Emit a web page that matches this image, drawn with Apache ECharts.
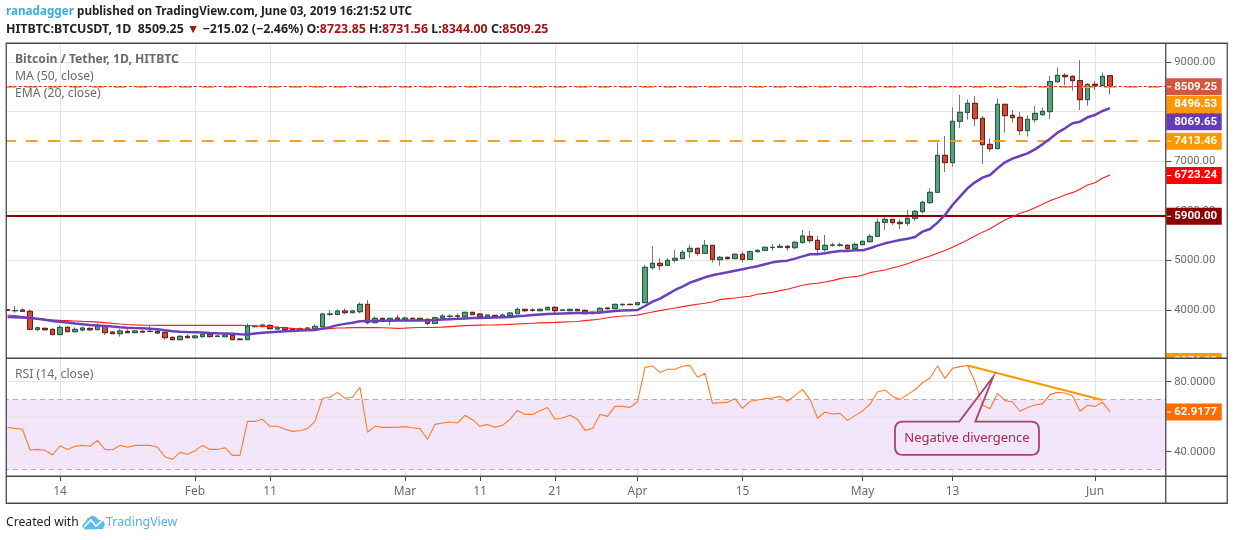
<!DOCTYPE html>
<html><head><meta charset="utf-8"><style>html,body{margin:0;padding:0;background:#fff}#c{width:1234px;height:540px}</style>
<script src="https://cdn.jsdelivr.net/npm/echarts@6/dist/echarts.min.js"></script></head><body><div id="c"></div>
<script>
// daily candles from 2019-01-07: [open, high, low, close]
const candles = [
[4005,4010,3985,3995],[3985,4080,3946,3990],[4000,4033,3960,3975],[3973,4013,3610,3610],[3606,3664,3570,3640],[3630,3650,3583,3603],[3610,3630,3496,3503],[3503,3697,3496,3650],[3650,3677,3556,3563],[3563,3650,3550,3610],
[3597,3664,3570,3637],[3630,3644,3583,3600],[3603,3731,3597,3670],[3670,3697,3496,3543],[3556,3576,3516,3523],[3523,3617,3462,3577],[3570,3610,3530,3543],[3543,3583,3536,3577],[3570,3603,3543,3556],[3570,3690,3556,3567],
[3570,3597,3516,3536],[3550,3570,3402,3442],[3449,3462,3382,3402],[3402,3489,3388,3469],[3469,3509,3435,3442],
[3442,3496,3422,3476],[3462,3543,3456,3509],[3509,3530,3456,3462],[3466,3496,3456,3476],[3462,3503,3456,3496],[3489,3509,3395,3402],[3415,3435,3395,3402],[3402,3731,3395,3670],[3665,3697,3644,3675],[3665,3704,3650,3697],
[3690,3704,3617,3623],[3617,3677,3597,3650],[3644,3664,3597,3603],[3623,3630,3597,3605],[3603,3650,3597,3623],[3603,3644,3590,3637],[3623,3711,3610,3670],[3664,3946,3657,3919],[3912,4000,3879,3919],[3912,4013,3899,3980],
[3980,4033,3919,3946],[3946,4000,3933,3980],[3966,4154,3933,4114],[4114,4201,3711,3745],[3745,3872,3731,3832],[3832,3838,3798,3805],[3798,3835,3697,3832],[3838,3899,3792,3805],
[3805,3865,3792,3838],[3832,3852,3805,3825],[3832,3835,3798,3805],[3812,3832,3691,3731],[3731,3865,3718,3845],[3838,3919,3825,3879],[3868,3912,3838,3875],[3880,3933,3812,3875],[3865,3966,3859,3953],[3953,3960,3899,3906],
[3919,3933,3845,3865],[3859,3906,3838,3899],[3892,3899,3852,3865],[3859,3933,3832,3899],[3885,3960,3865,3939],[3926,4054,3919,4013],[4013,4020,3960,3986],[3999,4033,3966,3997],[3986,4033,3980,4013],[4006,4060,4000,4054],
[4054,4080,3933,3986],[3993,4013,3986,4000],[3986,4026,3980,4013],[4013,4020,3980,3986],[3993,4013,3919,3926],[3926,3960,3919,3953],[3946,4054,3933,4033],[4040,4047,4015,4025],[4027,4127,4020,4114],[4107,4134,4067,4114],[4115,4120,4100,4108],
[4107,4161,4094,4148],[4148,4908,4148,4860],[4854,5291,4813,4941],[4941,5042,4793,4894],[4901,5042,4894,5002],[5002,5210,4955,5042],[5035,5210,5029,5163],[5176,5311,5055,5244],[5244,5244,5096,5143],[5143,5412,5136,5304],
[5304,5304,4955,5022],[5015,5089,4894,5062],[5062,5076,5015,5035],[5035,5143,5029,5123],[5123,5176,4955,5022],[5022,5197,5008,5176],[5176,5224,5156,5203],[5203,5277,5190,5264],[5260,5331,5197,5264],[5264,5331,5244,5284],
[5284,5311,5197,5257],[5257,5398,5230,5365],[5358,5613,5344,5492],[5485,5593,5344,5398],[5405,5492,5109,5223],[5217,5512,5176,5304],[5300,5358,5277,5311],[5305,5358,5277,5311],[5304,5324,5176,5237],[5237,5358,5223,5324],
[5317,5398,5311,5385],[5378,5533,5365,5485],[5485,5848,5479,5768],[5768,5909,5613,5828],[5828,5828,5714,5761],[5768,5828,5633,5741],[5748,6016,5694,5848],[5848,6016,5801,5990],[5983,6205,5949,6171],[6164,6453,6144,6373],
[6373,7374,6366,7118],[7118,7508,6782,6971],[6971,8086,6890,7804],[7804,8335,7670,7985],[7985,8247,7837,8167],[8167,8315,7710,7858],[7864,7911,6944,7333],[7340,7461,7192,7253],[7253,8268,7246,8147],[8147,8147,7575,7918],
[7925,8032,7777,7878],[7885,7992,7528,7616],[7616,7925,7495,7844],[7837,8113,7777,7965],[7938,8086,7918,8006],[8000,8718,7851,8604],[8604,8893,8577,8731],[8731,8778,8536,8704],[8711,8731,8422,8624],[8624,9040,8032,8241],[8241,8570,8120,8550],
[8550,8610,8436,8523],[8530,8792,8516,8711],[8723.85,8731.56,8344,8509.25]];
const ema20 = [3860,3855,3850,3840,3825,3805,3780,3765,3750,3730,3715,3700,3690,3680,3665,3652,3642,3635,3630,3622,3612,3590,3570,3560,3555,
3552,3545,3538,3532,3528,3520,3510,3508,3525,3540,3550,3560,3570,3578,3585,3590,3598,3625,3655,3695,3720,3745,3775,3778,3780,3782,3784,3786,
3788,3790,3792,3790,3798,3808,3815,3822,3830,3838,3840,3845,3850,3855,3858,3875,3885,3898,3908,3918,3925,3930,3935,3938,3940,3945,3950,3965,3980,3990,3995,
4000,4081,4168,4229,4316,4404,4471,4551,4605,4659,4699,4733,4760,4793,4820,4854,4881,4921,4961,4981,4995,5035,5082,5123,5123,5143,5170,5190,5190,5203,
5203,5244,5297,5344,5378,5412,5438,5472,5580,5633,5761,5916,6117,6285,6453,6574,6668,6722,6856,6977,7051,7105,7159,7239,7340,7454,7575,7663,7764,7797,7885,
7932,8012,8069.65];
const ma50 = [3900,3890,3870,3845,3825,3812,3800,3790,3785,3778,3770,3765,3755,3745,3730,3718,3708,3700,3695,3693,3691,3691,3690,3690,3690,
3691,3690,3690,3690,3690,3690,3691,3688,3680,3675,3665,3652,3640,3630,3622,3615,3610,3612,3625,3637,3640,3644,3645,3644,3644,3642,3638,3630,
3635,3642,3646,3648,3650,3655,3665,3675,3685,3691,3695,3698,3700,3704,3710,3718,3725,3733,3740,3745,3750,3756,3762,3768,3785,3800,3820,3845,3865,3878,3885,
3897,3930,3960,3987,4014,4041,4068,4094,4115,4135,4162,4209,4229,4242,4262,4276,4316,4336,4357,4390,4417,4457,4498,4525,4538,4565,4592,4632,4659,4672,
4699,4753,4780,4807,4847,4887,4934,4988,5040,5090,5145,5200,5265,5335,5410,5490,5570,5640,5727,5815,5882,5949,5996,6063,6131,6205,6258,6319,6366,6433,6520,
6567,6655,6723.24];
const rsi14 = [53.9,53.3,52.8,41.0,41.3,40.8,38.1,43.4,41.3,43.1,43.6,43.1,46.5,41.3,41.1,43.6,42.5,43.6,43.6,43.6,42.5,37.1,35.6,39.6,38.5,
40.6,43.6,41.3,41.3,42.3,37.9,37.9,57.3,57.3,58.5,54.5,54.5,52.8,51.6,52.0,53.2,57.3,70.5,71.1,73.9,70.5,71.1,76.8,51.1,54.5,53.9,53.9,53.9,
54.3,53.7,53.2,47.1,55.6,56.4,57.0,56.4,60.8,58.3,54.5,55.6,53.9,55.1,58.5,63.6,61.3,61.3,63.4,65.3,58.5,59.3,60.8,58.5,52.2,53.3,61.3,60.2,65.9,65.9,65.3,
68.4,88.2,89.0,85.3,87.1,87.1,88.8,89.3,82.5,84.8,67.6,68.0,68.2,70.3,64.8,68.8,69.5,70.3,70.7,71.6,68.8,72.2,75.6,69.9,59.1,62.7,61.5,61.9,57.9,60.6,
63.3,67.1,74.1,75.3,71.6,69.9,72.6,75.4,79.4,82.1,89.0,81.9,87.6,88.6,89.3,80.0,66.7,64.6,73.3,69.2,68.4,63.1,65.3,66.7,67.3,72.6,73.9,73.5,72.0,63.1,66.5,
65.9,68.2,62.9177];
const tickDates = {'2019-01-14':'14','2019-02-01':'Feb','2019-02-11':'11','2019-03-01':'Mar','2019-03-11':'11','2019-03-21':'21','2019-04-01':'Apr','2019-04-15':'15','2019-05-01':'May','2019-05-13':'13','2019-06-01':'Jun'};
const priceTicks = [4000,5000,6000,7000,8000,9000];
const rsiTicks = [40,60,80];
const rsiBand = [30,70];
const trendFrom = ['2019-05-15',89.3], trendTo = ['2019-06-02',69.5];
const tagValues = [2974.08,5900,6723.24,7413.46,8069.65,8496.53,8509.25];
const tagLabels = ['2974.08','5900.00','6723.24','7413.46','8069.65','8496.53','8509.25'];
const tagColors = ['#ff9800','#8b0000','#ff0000','#ff9800','#673ab7','#ff9800','#d2573f'];
const tagShifts = [0,0,0,0,13,17,0];
const rsiTagValues = [62.9177], rsiTagLabels = ['62.9177'], rsiTagColors = ['#ff6d00'];
const calloutAnchor = ['2019-05-18',82.9];
const calloutText = 'Negative divergence';

const FONT = '"Noto Sans", sans-serif';
const NUM = 'Roboto, "Noto Sans", sans-serif';
const AX = '#6b6b6b';
const cats = [];
for (let d = new Date(Date.UTC(2019,0,7)); d <= new Date(Date.UTC(2019,5,10)); d = new Date(+d+864e5)) cats.push(d.toISOString().slice(0,10));
const isTick = (i, v) => v in tickDates;

function xAxis(gi, labels) {
  return {type:'category', gridIndex:gi, data:cats, boundaryGap:true,
    axisLine:{show:labels, lineStyle:{color:'#4a4a4a',width:1}},
    axisTick:{show:labels, interval:isTick, alignWithLabel:true, length:5, lineStyle:{color:'#4a4a4a'}},
    axisLabel:{show:labels, interval:isTick, formatter:v=>tickDates[v]||'', color:AX, fontFamily:FONT, fontSize:12, margin:10, hideOverlap:false},
    splitLine:{show:true, interval:isTick, alignWithLabel:true, lineStyle:{color:'#e6e6e6',width:1}}};
}
const tagItem = (labels) => (params, api) => {
  const cs = params.coordSys, x0 = cs.x + cs.width;
  const y = api.coord([api.value(0), api.value(1)])[1] + api.value(2) + 0.5;
  return {type:'group', clipPath:{type:'rect', shape:{x:x0-1, y:cs.y, width:80, height:cs.height}}, children:[
    {type:'rect', shape:{x:x0, y:y-8.5, width:55.5, height:17}, style:{fill:api.value(3)}},
    {type:'rect', shape:{x:x0+1, y:y-0.5, width:4, height:1}, style:{fill: api.value(2) ? api.value(3) : '#fff'}},
    {type:'text', x:x0+8, y:y, style:{text:labels[params.dataIndex], fill:'#fff', font:'bold 11.5px '+NUM, verticalAlign:'middle', align:'left'}}
  ]};
};
const tagData = tagValues.map((v,i)=>[cats[0], v, tagShifts[i], tagColors[i]]);
const rsiTagData = rsiTagValues.map((v,i)=>[cats[0], v, 0, rsiTagColors[i]]);

const option = {
  animation:false, backgroundColor:'#fff',
  title:[
    {left:6, top:6, padding:0, text:'{b|ranadagger}{k| published on TradingView.com, June 03, 2019 16:21:52 UTC}',
     textStyle:{rich:{b:{color:'#3fa9e0',fontFamily:FONT,fontSize:11.7},k:{color:'#222',fontFamily:FONT,fontSize:11.7}}}},
    {left:6, top:23, padding:0, text:'{h|HITBTC:BTCUSDT, 1D}{k|  8509.25 }{r|▼}{k| −215.02 (−2.46%) }{h|O:}{r|8723.85 }{h|H:}{r|8731.56 }{h|L:}{r|8344.00 }{h|C:}{r|8509.25}',
     textStyle:{rich:{h:{color:'#222',fontWeight:'bold',fontFamily:FONT,fontSize:12.4},k:{color:'#222',fontFamily:FONT,fontSize:12.4},r:{color:'#a31515',fontFamily:FONT,fontSize:12.4}}}},
    {left:15, top:54, padding:0, text:'Bitcoin / Tether, 1D, HITBTC', textStyle:{color:'#6b6b6b',fontWeight:'bold',fontFamily:FONT,fontSize:12.2}},
    {left:15, top:71, padding:0, text:'MA (50, close)', textStyle:{color:'#6b6b6b',fontWeight:'normal',fontFamily:FONT,fontSize:12.2}},
    {left:15, top:88, padding:0, text:'EMA (20, close)', textStyle:{color:'#6b6b6b',fontWeight:'normal',fontFamily:FONT,fontSize:12.2}},
    {left:15, top:369, padding:0, text:'RSI (14, close)', textStyle:{color:'#6b6b6b',fontWeight:'normal',fontFamily:FONT,fontSize:12.2}},
    {left:6, top:517, padding:0, text:'Created with', textStyle:{color:'#222',fontWeight:'normal',fontFamily:FONT,fontSize:12.2}},
    {left:106, top:516, padding:0, text:'TradingView', textStyle:{color:'#4fb3e8',fontWeight:'normal',fontFamily:FONT,fontSize:12.4}}
  ],
  grid:[{left:3.75, top:44, width:1162.5, height:314},{left:3.75, top:358, width:1162.5, height:118}],
  xAxis:[xAxis(0,false), xAxis(1,true)],
  yAxis:[
    {type:'value', gridIndex:0, position:'right', min:3032.3, max:9362.9, z:3,
     axisLine:{show:false}, axisTick:{show:true, customValues:priceTicks, length:5, lineStyle:{color:'#4a4a4a'}},
     axisLabel:{customValues:priceTicks, formatter:v=>v.toFixed(2), color:AX, fontFamily:NUM, fontSize:11.3, margin:8, padding:[3,0,0,0]},
     splitLine:{show:true, lineStyle:{color:'#e6e6e6',width:1}}},
    {type:'value', gridIndex:1, position:'right', min:26.11, max:93.54, z:3,
     axisLine:{show:false}, axisTick:{show:true, customValues:rsiTicks, length:5, lineStyle:{color:'#4a4a4a'}},
     axisLabel:{customValues:rsiTicks, formatter:v=>v.toFixed(4), color:AX, fontFamily:NUM, fontSize:11.3, margin:8, padding:[3,0,0,0]},
     splitLine:{show:true, lineStyle:{color:'#e6e6e6',width:1}}}
  ],
  series:[
    {type:'candlestick', name:'Wicks', xAxisIndex:0, yAxisIndex:0, barWidth:5, z:3,
     data:candles.map(c=>[c[0],c[3],c[2],c[1]]),
     itemStyle:{color:'#777',color0:'#777',borderColor:'#777',borderColor0:'#777',borderColorDoji:'#777',borderWidth:1},
     markLine:{silent:true, symbol:'none', animation:false, precision:2, label:{show:false}, data:[
       {yAxis:8496.53, lineStyle:{color:'#ffa940',type:[12,10],width:2.2,opacity:1}},
       {yAxis:7413.46, lineStyle:{color:'#ff9800',type:[12,10],width:2,opacity:.9}},
       {yAxis:5900, lineStyle:{color:'#8b0000',type:'solid',width:2.2,shadowColor:'rgba(220,50,50,.6)',shadowBlur:1}},
       {yAxis:8509.25, lineStyle:{color:'#c0392b',type:[3,2],width:1}}
     ]}},
    {type:'candlestick', name:'BTCUSDT', xAxisIndex:0, yAxisIndex:0, barWidth:5, z:4,
     data:candles.map(c=>[c[0],c[3],Math.min(c[0],c[3]),Math.max(c[0],c[3])]),
     itemStyle:{color:'#5a9e7e',color0:'#d0493a',borderColor:'#1f5a3c',borderColor0:'#6e1a12',borderColorDoji:'#1f5a3c',borderWidth:1}},
    {type:'line', name:'MA (50, close)', xAxisIndex:0, yAxisIndex:0, data:ma50, showSymbol:false, z:5, lineStyle:{color:'#ff2020',width:1.1}},
    {type:'line', name:'EMA (20, close)', xAxisIndex:0, yAxisIndex:0, data:ema20, showSymbol:false, z:5, lineStyle:{color:'#6a3fb8',width:2.5}},
    {type:'custom', name:'Price tags', xAxisIndex:0, yAxisIndex:0, z:20, clip:false, silent:true, data:tagData,
     renderItem:tagItem(tagLabels)},
    {type:'line', name:'RSI (14, close)', xAxisIndex:1, yAxisIndex:1, data:rsi14, showSymbol:false, z:5, lineStyle:{color:'#ff7b2f',width:1.1},
     markArea:{silent:true, animation:false, itemStyle:{color:'#f3e6fb'}, data:[[{yAxis:rsiBand[1]},{yAxis:rsiBand[0]}]]},
     markLine:{silent:true, symbol:'none', animation:false, label:{show:false}, data:[
       {yAxis:rsiBand[1], lineStyle:{color:'#b8a8c2',type:[5,4],width:1}},
       {yAxis:rsiBand[0], lineStyle:{color:'#b8a8c2',type:[5,4],width:1}},
       [{coord:trendFrom, lineStyle:{color:'#ff9800',type:'solid',width:2}},{coord:trendTo}]
     ]}},
    {type:'custom', name:'RSI tag', xAxisIndex:1, yAxisIndex:1, z:20, clip:false, silent:true,
     data:rsiTagData, renderItem:tagItem(rsiTagLabels)},
    {type:'custom', name:'Callout', xAxisIndex:1, yAxisIndex:1, z:15, clip:false, silent:true, data:[calloutAnchor],
     renderItem:(p,api)=>{
       const pt = api.coord([api.value(0),api.value(1)]), tx = pt[0]+3.3, ty = pt[1];
       const L=tx-98.3,R=tx+45.7,T=ty+45,B=ty+78.3,r=8;
       const d=`M${L+r} ${T} L${tx-34} ${T} L${tx} ${ty} L${tx-18} ${T} L${R-r} ${T} Q${R} ${T} ${R} ${T+r} L${R} ${B-r} Q${R} ${B} ${R-r} ${B} L${L+r} ${B} Q${L} ${B} ${L} ${B-r} L${L} ${T+r} Q${L} ${T} ${L+r} ${T} Z`;
       return {type:'group',children:[
         {type:'path',shape:{pathData:d,x:L,y:ty,width:R-L,height:B-ty},layout:'cover',style:{fill:'rgba(243,230,251,.55)',stroke:'rgba(155,40,80,.85)',lineWidth:1.8}},
         {type:'text',x:(L+R)/2,y:(T+B)/2,style:{text:calloutText,fill:'#a3294f',font:'13px '+FONT,align:'center',verticalAlign:'middle'}}
       ]};
     }}
  ],
  graphic:{elements:[
    {type:'rect',z:100,silent:true,shape:{x:0,y:40,width:5.8,height:466},style:{fill:'#fff'}},
    {type:'rect',z:101,silent:true,shape:{x:6.25,y:43.25,width:1221,height:460},style:{fill:'none',stroke:'#4a4a4a',lineWidth:1.3}},
    {type:'line',z:101,silent:true,shape:{x1:6,y1:358.25,x2:1227,y2:358.25},style:{stroke:'#4a4a4a',lineWidth:1.3}},
    {type:'line',z:101,silent:true,shape:{x1:6,y1:476.25,x2:1227,y2:476.25},style:{stroke:'#4a4a4a',lineWidth:1.3}},
    {type:'line',z:101,silent:true,shape:{x1:1165.75,y1:43,x2:1165.75,y2:503},style:{stroke:'#4a4a4a',lineWidth:1.3}},
    {type:'polygon',z:5,silent:true,shape:{points:[[82,526],[88,518],[92,515.5],[96,517],[99,520],[103,520.5],[105,524],[103,529],[85,529.5]]},style:{fill:'#5bbde8'}},
    {type:'polyline',z:6,silent:true,shape:{points:[[84,527],[91,520],[96,526],[103,520]]},style:{stroke:'#fff',lineWidth:1.6,fill:'none'}}
  ]}
};
const chart = echarts.init(document.getElementById('c'), null, {renderer:'canvas', width:1234, height:540});
chart.setOption(option);
</script></body></html>
